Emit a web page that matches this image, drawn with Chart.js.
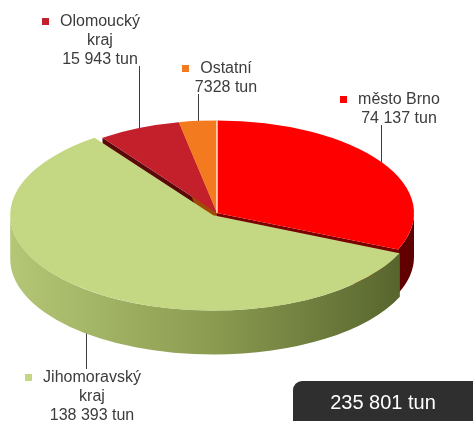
<!DOCTYPE html>
<html>
<head>
<meta charset="utf-8">
<script src="https://cdn.jsdelivr.net/npm/chart.js"></script>
<style>
  html, body { margin: 0; padding: 0; background: #fff; }
  #wrap { width: 473px; height: 421px; position: relative; }
</style>
</head>
<body>
<div id="wrap"><canvas id="myChart"></canvas></div>
<script>
// slices, clockwise from 12 o'clock
const categories = [["město Brno"], ["Jihomoravský", "kraj"], ["Olomoucký", "kraj"], ["Ostatní"]];
const amounts = [74137, 138393, 15943, 7328];
const unit = "tun";

const topColors = ["#ff0000", "#c4d782", "#c4202c", "#f47a20"];
const sideColors = [
  ["#b00000", "#8a0000", "#5e0000"],
  ["#b4c776", "#8b9b50", "#53612b"],
  ["#8a1018", "#6a0a10", "#4a0508"],
  ["#d06010", "#b05008", "#904004"]
];
const wallColors = ["#7a0000", "#6e7d3a", "#5a0808", "#a04a08"];
const sliceOffsets = [0, 24, 0, 0];

const TILT = 0.47;   // vertical squash of the pie top
const DEPTH = 44;    // thickness of the pie

// label blocks: centre x and middle of first line
const labelBoxes = [
  { x: 399, y: 100 },
  { x: 92, y: 378 },
  { x: 100, y: 22 },
  { x: 226, y: 69 }
];
const LINE_H = 19;

// 15943 -> "15 943", 7328 stays as is
function fmt(v) {
  const s = String(v);
  if (v < 10000) return s;
  return s.replace(/\B(?=(\d{3})+(?!\d))/g, " ");
}

// same shift and radius growth that ArcElement.draw applies for `offset`
function sliceGeom(arc) {
  const o = (arc.options.offset || 0) / 4;
  const h = (arc.startAngle + arc.endAngle) / 2;
  const fix = 1 - Math.sin(Math.min(Math.PI, arc.circumference || 0));
  return {
    x: arc.x + Math.cos(h) * o,
    y: arc.y + Math.sin(h) * o * TILT,
    r: arc.outerRadius + o * fix
  };
}

function rim(arc, a, dz) {
  const g = sliceGeom(arc);
  return { x: g.x + g.r * Math.cos(a), y: g.y + g.r * TILT * Math.sin(a) + (dz || 0) };
}

// sides of the pie, then squash the context so the tops come out elliptical
const pie3d = {
  id: "pie3d",
  beforeDatasetsDraw(chart) {
    const ctx = chart.ctx;
    const arcs = chart.getDatasetMeta(0).data;

    // radial walls facing the viewer
    arcs.forEach((arc, i) => {
      const c = sliceGeom(arc);
      [[arc.startAngle, Math.cos(arc.startAngle) < 0], [arc.endAngle, Math.cos(arc.endAngle) > 0]].forEach(([a, visible]) => {
        if (!visible) return;
        const p = rim(arc, a);
        ctx.beginPath();
        ctx.moveTo(c.x, c.y);
        ctx.lineTo(p.x, p.y);
        ctx.lineTo(p.x, p.y + DEPTH);
        ctx.lineTo(c.x, c.y + DEPTH);
        ctx.closePath();
        ctx.fillStyle = wallColors[i];
        ctx.fill();
      });
    });

    // outer curved band, front half only
    arcs.forEach((arc, i) => {
      const lo = Math.max(arc.startAngle, 0);
      const hi = Math.min(arc.endAngle, Math.PI);
      if (lo >= hi) return;
      const c = sliceGeom(arc);
      const g = ctx.createLinearGradient(c.x - c.r, 0, c.x + c.r, 0);
      g.addColorStop(0, sideColors[i][0]);
      g.addColorStop(0.5, sideColors[i][1]);
      g.addColorStop(1, sideColors[i][2]);
      ctx.beginPath();
      ctx.ellipse(c.x, c.y, c.r, c.r * TILT, 0, lo, hi, false);
      ctx.ellipse(c.x, c.y + DEPTH, c.r, c.r * TILT, 0, hi, lo, true);
      ctx.closePath();
      ctx.fillStyle = g;
      ctx.fill();
    });

    const a0 = arcs[0];
    ctx.save();
    ctx.translate(a0.x, a0.y);
    ctx.scale(1, TILT);
    ctx.translate(-a0.x, -a0.y);
  },
  afterDatasetsDraw(chart) {
    const ctx = chart.ctx;
    const a0 = chart.getDatasetMeta(0).data[0];
    // thin light seam at 12 o'clock
    ctx.beginPath();
    ctx.moveTo(a0.x, a0.y);
    ctx.lineTo(a0.x + a0.outerRadius * Math.cos(a0.startAngle), a0.y + a0.outerRadius * Math.sin(a0.startAngle));
    ctx.strokeStyle = "rgba(255,255,255,0.85)";
    ctx.lineWidth = 1.5;
    ctx.stroke();
    ctx.restore();
  }
};

// labels with leader lines and the total box
const sliceLabels = {
  id: "sliceLabels",
  afterDraw(chart) {
    const ctx = chart.ctx;
    const arcs = chart.getDatasetMeta(0).data;
    ctx.save();
    ctx.font = '16px "Liberation Sans", Arial, sans-serif';
    ctx.textBaseline = "middle";
    ctx.textAlign = "center";

    arcs.forEach((arc, i) => {
      const box = labelBoxes[i];
      const lines = categories[i].concat([fmt(amounts[i]) + " " + unit]);
      const h = (arc.startAngle + arc.endAngle) / 2;
      const front = Math.sin(h) > 0;
      const p = rim(arc, h, front ? DEPTH : 0);

      // leader line
      ctx.beginPath();
      if (front) {
        ctx.moveTo(Math.round(p.x) + 0.5, p.y);
        ctx.lineTo(Math.round(p.x) + 0.5, box.y - 9);
      } else {
        ctx.moveTo(Math.round(p.x) + 0.5, box.y + (lines.length - 1) * LINE_H + 6);
        ctx.lineTo(Math.round(p.x) + 0.5, p.y);
      }
      ctx.strokeStyle = "#3c3c3c";
      ctx.lineWidth = 1;
      ctx.stroke();

      // legend square
      const w = ctx.measureText(lines[0]).width;
      ctx.fillStyle = topColors[i];
      ctx.fillRect(Math.round(box.x - w / 2 - 18), box.y - 4, 7, 7);

      ctx.shadowColor = "rgba(255,255,255,1)";
      ctx.shadowBlur = 4;
      ctx.fillStyle = "#3c3c3c";
      lines.forEach((t, k) => ctx.fillText(t, box.x, box.y + k * LINE_H));
      ctx.shadowBlur = 0;
    });

    const total = amounts.reduce((s, v) => s + v, 0);
    ctx.beginPath();
    ctx.roundRect(293, 381, 190, 60, 9);
    ctx.fillStyle = "#2f2f2f";
    ctx.fill();
    ctx.font = '20px "Liberation Sans", Arial, sans-serif';
    ctx.fillStyle = "#ffffff";
    ctx.fillText(String(total).replace(/\B(?=(\d{3})+(?!\d))/g, " ") + " " + unit, 383, 403);
    ctx.restore();
  }
};

new Chart("myChart", {
  type: "pie",
  data: {
    labels: categories,
    datasets: [{
      data: amounts,
      backgroundColor: topColors,
      borderWidth: 0,
      offset: sliceOffsets,
      clip: false
    }]
  },
  options: {
    responsive: true,
    maintainAspectRatio: false,
    animation: false,
    events: [],
    radius: 197,
    rotation: 0,
    layout: { padding: { left: 0, right: 39, top: 5, bottom: 0 } },
    plugins: {
      legend: { display: false },
      tooltip: { enabled: false }
    }
  },
  plugins: [pie3d, sliceLabels]
});
</script>
</body>
</html>
